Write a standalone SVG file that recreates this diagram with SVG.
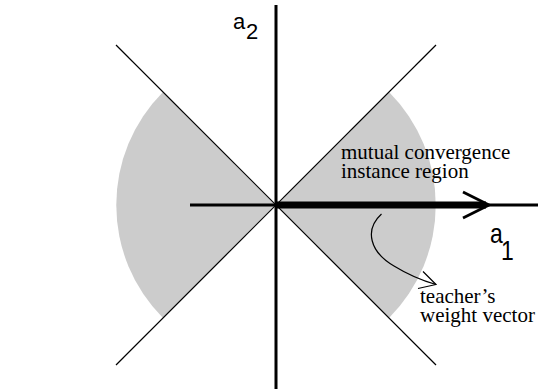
<svg xmlns="http://www.w3.org/2000/svg" width="540" height="389" viewBox="0 0 540 389">
<style>
.region{fill:#cccccc;stroke:none}
.diag{stroke:#000;stroke-width:1.2;fill:none}
.axis{stroke:#000;stroke-width:3;fill:none}
.thin{stroke:#000;stroke-width:1.2;fill:none}
.sans{font-family:"Liberation Sans",Arial,sans-serif;fill:#000}
.serif{font-family:"Liberation Serif","Times New Roman",serif;font-size:21px;fill:#000}
</style>
<rect width="540" height="389" fill="#fff"/>
<g id="regions">
<path class="region" d="M276,205 L163,92 A160,160 0 0 0 163,318 Z"/>
<path class="region" d="M276,205 L389,92 A160,160 0 0 1 389,318 Z"/>
</g>
<g id="connectors">
<line class="diag" x1="116" y1="45" x2="436" y2="365"/>
<line class="diag" x1="436" y1="45" x2="116" y2="365"/>
<line class="axis" x1="276" y1="5" x2="276" y2="389"/>
<line class="axis" x1="190" y1="205" x2="538" y2="205"/>
<rect x="276" y="201.5" width="210" height="7" fill="#000"/>
<polyline points="463,192 489,205 463,218" fill="none" stroke="#000" stroke-width="2.8"/>
<path class="thin" d="M381.5,214 C364,230 370,252 394,266 C407,274 420,280 436,284.5"/>
<polyline class="thin" points="423,271.5 436,284.5 418,288.5"/>
</g>
<g id="label-a2">
<text class="sans" x="233" y="29" font-size="22">a</text>
<text class="sans" x="246" y="39" font-size="22">2</text>
</g>
<g id="label-a1">
<g transform="translate(490,243) scale(1,1.2)">
<text class="sans" x="0" y="0" font-size="23">a</text>
</g>
<g transform="translate(501,260) scale(1,1.2)">
<text class="sans" x="0" y="0" font-size="23">1</text>
</g>
</g>
<g id="label-region">
<text class="serif" x="341" y="159">mutual convergence</text>
<text class="serif" x="341" y="178">instance region</text>
</g>
<g id="label-teacher">
<text class="serif" x="420" y="303">teacher’s</text>
<text class="serif" x="420" y="321.5">weight vector</text>
</g>
</svg>
